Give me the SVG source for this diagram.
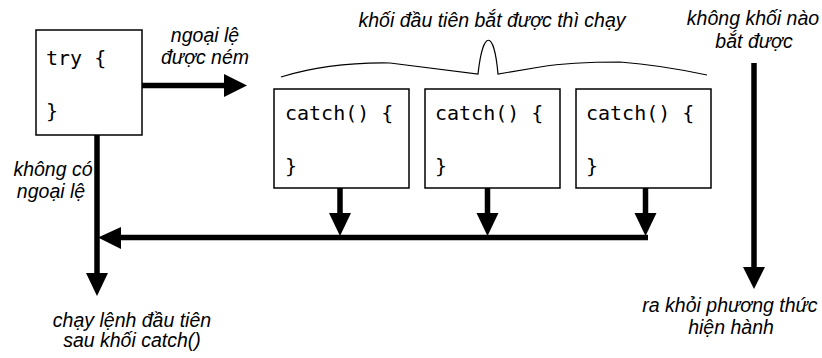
<svg xmlns="http://www.w3.org/2000/svg" width="822" height="358" viewBox="0 0 822 358">
<style>
.box{fill:#fff;stroke:#000;stroke-width:1.5}
.code{font-family:"DejaVu Sans Mono","Liberation Mono",monospace;font-size:20px;fill:#000}
.lbl{font-family:"Liberation Sans",Arial,sans-serif;font-style:italic;font-size:19.5px;fill:#000;text-anchor:middle}
.thick{stroke:#000;stroke-width:5.5;fill:none}
.head{fill:#000}
.brace{fill:none;stroke:#000;stroke-width:1.2}
</style>
<rect width="822" height="358" fill="#fff"/>
<g id="connectors">
<line class="thick" x1="142" y1="85.5" x2="226" y2="85.5"/>
<polygon class="head" points="224,74 247,85.5 224,97"/>
<line class="thick" x1="97" y1="135" x2="97" y2="275"/>
<polygon class="head" points="86,273 97,296 108,273"/>
<line class="thick" x1="648" y1="237.5" x2="119" y2="237.5"/>
<polygon class="head" points="121,227 98,237.5 121,249"/>
<line class="thick" x1="340" y1="188" x2="340" y2="215"/>
<polygon class="head" points="329,213 340,236 351,213"/>
<line class="thick" x1="487.5" y1="188" x2="487.5" y2="215"/>
<polygon class="head" points="476.5,213 487.5,236 498.5,213"/>
<line class="thick" x1="645.5" y1="186" x2="645.5" y2="215"/>
<polygon class="head" points="634.5,213 645.5,236 656.5,213"/>
<line class="thick" x1="754" y1="63" x2="754" y2="269"/>
<polygon class="head" points="743,267 754,289 765,267"/>
<path class="brace" d="M281,77 Q330,62 390,63 L478,74 C483,29 494,29 498,74 L540,67 Q570,62 620,62 Q660,65 707,75"/>
</g>
<g id="try">
<rect class="box" x="36" y="30" width="106" height="105"/>
<text class="code" x="46" y="65">try {</text>
<text class="code" x="46" y="118">}</text>
</g>
<g id="catch1">
<rect class="box" x="274" y="89" width="135" height="99"/>
<text class="code" x="285" y="119.5">catch() {</text>
<text class="code" x="285" y="173">}</text>
</g>
<g id="catch2">
<rect class="box" x="425" y="89" width="135" height="99"/>
<text class="code" x="435" y="119.5">catch() {</text>
<text class="code" x="435" y="173">}</text>
</g>
<g id="catch3">
<rect class="box" x="576" y="89" width="135" height="99"/>
<text class="code" x="586" y="119.5">catch() {</text>
<text class="code" x="586" y="173">}</text>
</g>
<g id="labels">
<text class="lbl" x="205" y="42">ngoại lệ</text>
<text class="lbl" x="205" y="64">được ném</text>
<text class="lbl" x="492" y="27">khối đầu tiên bắt được thì chạy</text>
<text class="lbl" x="753" y="25">không khối nào</text>
<text class="lbl" x="754" y="48">bắt được</text>
<text class="lbl" x="53" y="176">không có</text>
<text class="lbl" x="51" y="198">ngoại lệ</text>
<text class="lbl" x="132" y="327">chạy lệnh đầu tiên</text>
<text class="lbl" x="132" y="347">sau khối catch()</text>
<text class="lbl" x="730" y="312">ra khỏi phương thức</text>
<text class="lbl" x="731" y="334">hiện hành</text>
</g>
</svg>
